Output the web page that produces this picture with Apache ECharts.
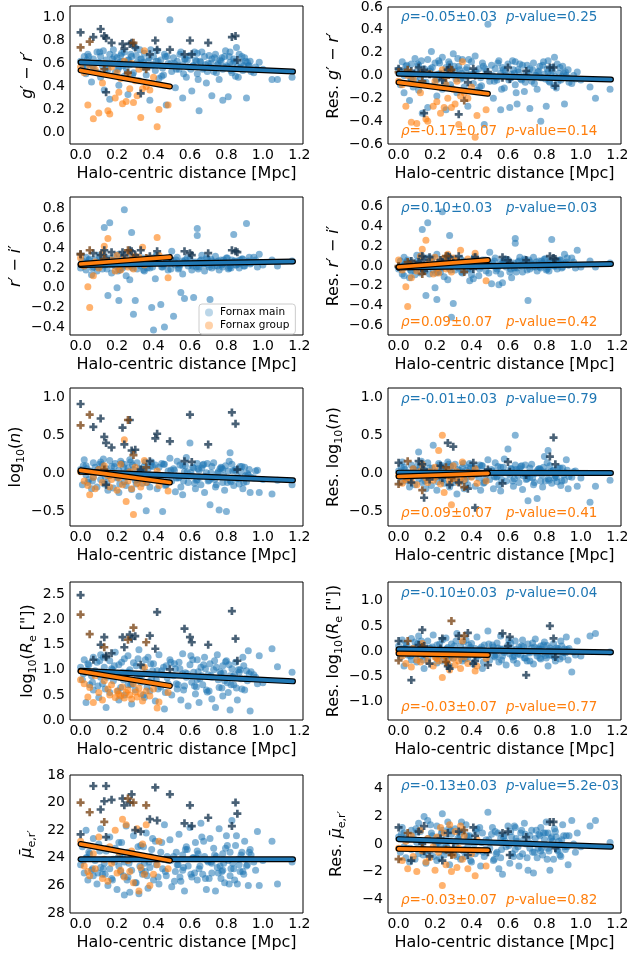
<!DOCTYPE html>
<html><head><meta charset="utf-8">
<script src="https://cdn.jsdelivr.net/npm/echarts@6/dist/echarts.min.js"></script>
<style>html,body{margin:0;padding:0;background:#fff}#c{width:632px;height:954px}</style>
</head><body><div id="c"></div>
<script>
// ---- shared x positions (halo-centric distance, Mpc) ----
const mainX = [
0.00,0.01,0.02,0.03,0.03,0.04,0.05,0.06,0.07,0.07,
0.08,0.09,0.10,0.11,0.11,0.12,0.13,0.14,0.15,0.16,
0.16,0.17,0.18,0.19,0.20,0.21,0.21,0.22,0.23,0.24,
0.24,0.25,0.26,0.26,0.27,0.28,0.29,0.30,0.31,0.32,
0.33,0.34,0.35,0.36,0.37,0.38,0.39,0.40,0.41,0.42,
0.43,0.44,0.45,0.46,0.47,0.48,0.49,0.50,0.51,0.52,
0.53,0.54,0.55,0.56,0.56,0.57,0.58,0.59,0.60,0.61,
0.62,0.63,0.64,0.64,0.65,0.66,0.67,0.68,0.69,0.70,
0.71,0.72,0.72,0.73,0.74,0.75,0.76,0.77,0.78,0.78,
0.79,0.80,0.81,0.82,0.82,0.83,0.84,0.85,0.86,0.87,
0.88,0.89,0.90,0.91,0.92,0.93,0.95,0.97,0.98,1.05,
1.08,1.16,
0.015,0.045,0.095,0.125,0.145,0.175,0.205,0.225,0.235,0.265,
0.285,0.305,0.325,0.345,0.355,0.375,0.395,0.425,0.455,0.475,
0.515,0.535,0.575,0.605,0.635,0.665,0.685,0.695,0.735,0.755,
0.765,0.805,0.815,0.835,0.855,0.875,0.905,0.925,
0.035,0.065,0.105,0.135,0.185,0.215,0.255,0.275,0.315,0.335,
0.365,0.385,0.415,0.445,0.465,0.495,0.525,0.545,0.565,0.585,
0.615,0.625,0.645,0.655,0.675,0.705,0.715,0.745,0.775,0.785,
0.795,0.825,0.845,0.865,0.885,0.895,0.915,0.935,0.96,1.00];
const groupX = [
0.00,0.02,0.04,0.05,0.07,0.08,0.10,0.12,0.13,0.15,
0.16,0.17,0.19,0.20,0.21,0.22,0.23,0.24,0.25,0.26,
0.27,0.28,0.29,0.30,0.31,0.32,0.33,0.34,0.35,0.36,
0.38,0.40,0.42,0.43,0.48];
const mainNucX = [0.00,0.07,0.11,0.13,0.14,0.14,0.17,0.23,0.24,0.27,
0.28,0.30,0.33,0.38,0.41,0.42,0.49,0.57,0.60,0.61,0.70,0.83,0.85,0.86];
const groupNucX = [0.00,0.05,0.13,0.26,0.29,0.36];
const fitMainX = [0.0, 1.165];
const fitGroupX = [0.0, 0.49];

// ---- g'-r' ----
const gr_main = [
0.62,0.55,0.66,0.58,0.51,0.68,0.60,0.44,0.57,0.64,
0.53,0.70,0.61,0.48,0.66,0.58,0.37,0.63,0.55,0.68,
0.29,0.60,0.72,0.52,0.65,0.57,0.41,0.67,0.62,0.49,
0.70,0.56,0.63,0.33,0.59,0.66,0.52,0.74,0.61,0.45,
0.64,0.57,0.69,0.50,0.62,0.28,0.58,0.66,0.54,0.71,
0.47,0.63,0.56,0.68,0.24,0.60,0.98,0.53,0.65,0.39,
0.62,0.55,0.70,0.30,0.59,0.64,0.48,0.57,0.67,0.36,
0.58,0.63,0.51,0.69,0.19,0.61,0.55,0.66,0.43,0.60,
0.57,0.32,0.64,0.53,0.68,0.59,0.46,0.62,0.28,0.55,
0.66,0.58,0.31,0.61,0.70,0.52,0.64,0.49,0.57,0.68,
0.60,0.54,0.65,0.30,0.58,0.62,0.52,0.55,0.61,0.46,
0.46,0.48,
0.59,0.66,0.52,0.71,0.60,0.64,0.55,0.69,0.58,0.63,
0.50,0.67,0.72,0.61,0.56,0.65,0.59,0.62,0.50,0.66,
0.60,0.58,0.64,0.55,0.62,0.70,0.59,0.53,0.65,0.60,
0.63,0.57,0.66,0.60,0.74,0.56,0.62,0.58,
0.63,0.58,0.70,0.55,0.66,0.61,0.52,0.68,0.59,0.64,
0.57,0.72,0.62,0.49,0.66,0.60,0.55,0.68,0.51,0.63,
0.58,0.70,0.46,0.62,0.56,0.67,0.60,0.52,0.65,0.57,
0.71,0.54,0.62,0.48,0.66,0.58,0.61,0.53,0.57,0.55];
const gr_group = [
0.57,0.52,0.24,0.58,0.12,0.55,0.17,0.43,0.60,0.19,
0.16,0.57,0.30,0.52,0.35,0.47,0.25,0.62,0.27,0.50,
0.38,0.60,0.26,0.45,0.32,0.55,0.13,0.38,0.71,0.40,
0.37,0.48,0.05,0.20,0.24];
const gr_mainNuc = [0.87,0.83,0.90,0.84,0.35,0.82,0.78,0.77,0.73,0.77,
0.78,0.74,0.34,0.68,0.80,0.72,0.72,0.68,0.80,0.68,0.78,0.83,0.84,0.63];
const gr_groupNuc = [0.74,0.79,0.55,0.52,0.78,0.55];
const gr_fitMain = [0.61, 0.53];
const gr_fitGroup = [0.54, 0.40];

// ---- r'-i' ----
const ri_main = [
0.20,0.27,0.22,0.31,0.18,0.25,0.29,0.13,0.24,0.21,
0.28,0.17,0.33,0.22,0.26,0.19,0.61,0.24,-0.08,0.30,
0.66,0.15,0.27,0.22,0.00,0.34,-0.13,0.25,0.20,0.79,
0.28,0.12,0.23,0.31,0.08,0.56,-0.27,-0.13,0.19,0.26,
0.22,0.30,0.17,0.27,0.24,0.20,-0.20,-0.43,0.09,0.33,
0.25,-0.17,0.21,-0.40,0.29,0.18,0.26,0.37,-0.29,0.23,
0.31,0.20,-0.05,0.27,0.14,-0.11,0.25,0.22,0.29,0.18,
-0.10,0.26,0.60,0.53,0.21,0.28,0.24,0.17,0.30,0.23,
-0.12,0.27,0.20,0.25,0.32,0.22,0.18,0.28,0.24,0.21,
0.26,0.30,0.19,0.25,0.22,0.28,0.54,0.23,0.27,0.20,
0.25,0.29,0.22,0.65,0.27,0.24,0.31,0.21,0.34,0.28,
0.22,0.27,
0.24,0.28,0.21,0.35,0.19,0.23,0.17,0.29,0.22,0.26,
0.20,0.31,0.24,0.18,0.28,0.25,0.21,0.27,0.23,0.30,
0.26,0.19,0.28,0.24,0.21,0.33,0.25,0.29,0.22,0.27,
0.24,0.30,0.20,0.26,0.23,0.28,0.25,0.31,
0.25,0.20,0.28,0.23,0.31,0.18,0.26,0.22,0.29,0.24,
0.20,0.27,0.33,0.21,0.25,0.19,0.28,0.23,0.26,0.30,
0.22,0.25,0.19,0.27,0.24,0.21,0.29,0.26,0.23,0.28,
0.25,0.20,0.27,0.24,0.29,0.22,0.26,0.25,0.28,0.23];
const ri_group = [
0.30,0.22,0.01,-0.20,0.12,0.26,0.20,0.35,0.42,0.50,
0.25,0.28,0.17,0.33,0.22,0.18,0.27,0.30,0.24,0.21,
0.36,0.29,0.19,0.32,0.27,0.31,0.26,0.41,0.23,0.28,
0.30,0.25,0.51,0.33,0.10];
const ri_mainNuc = [0.34,0.35,0.33,0.38,0.25,0.30,0.36,0.36,0.33,0.38,
0.37,0.33,0.38,0.32,0.29,0.37,0.30,0.37,0.35,0.33,0.35,0.38,0.37,0.36];
const ri_groupNuc = [0.34,0.38,0.29,0.38,0.30,0.30];
const ri_fitMain = [0.23, 0.265];
const ri_fitGroup = [0.24, 0.31];

// ---- log10(n) ----
const n_main = [
0.05,-0.15,0.18,-0.02,0.10,-0.12,0.03,-0.20,0.14,-0.05,
0.08,-0.18,0.02,0.15,-0.08,0.11,-0.14,0.06,-0.22,0.17,
-0.03,0.09,-0.19,0.13,-0.06,0.04,-0.25,0.16,0.00,-0.11,
0.12,-0.16,0.07,-0.03,0.18,-0.21,0.05,-0.09,0.14,-0.30,
0.02,-0.13,0.10,-0.49,0.06,-0.18,0.15,-0.04,0.11,-0.20,
0.08,-0.07,-0.50,0.12,-0.15,0.03,0.20,-0.10,0.06,-0.24,
0.16,-0.05,-0.18,0.10,-0.28,0.02,0.21,-0.12,0.40,-0.03,
0.07,-0.20,0.13,-0.08,0.04,-0.15,0.11,-0.25,0.01,-0.10,
-0.41,0.09,-0.06,0.14,-0.18,0.00,-0.48,0.08,-0.12,0.05,
-0.22,-0.50,0.03,0.27,-0.09,0.12,-0.16,0.05,-0.04,-0.14,
0.02,-0.20,0.08,-0.11,-0.02,-0.25,-0.06,0.04,-0.25,-0.27,
-0.09,-0.15,
0.10,-0.08,0.05,0.19,-0.12,0.02,-0.05,0.13,0.08,-0.03,
0.11,-0.14,0.06,0.00,0.15,-0.07,0.09,-0.02,0.12,-0.10,
0.04,-0.06,0.10,0.01,-0.09,0.07,-0.04,0.13,-0.08,0.02,
0.06,-0.12,0.16,0.03,-0.07,0.09,-0.03,0.05,
0.06,-0.10,0.12,-0.04,0.09,-0.14,0.03,0.15,-0.08,0.05,
-0.12,0.10,-0.02,0.13,-0.16,0.04,-0.06,0.11,-0.10,0.02,
0.08,-0.13,0.06,-0.05,0.12,-0.09,0.01,-0.15,0.07,-0.03,
0.10,-0.11,0.04,-0.07,0.09,-0.12,0.00,-0.05,0.03,-0.08];
const n_group = [
0.02,-0.10,-0.16,-0.28,-0.05,-0.20,0.05,-0.12,0.10,-0.03,
-0.18,-0.08,0.00,-0.22,-0.06,0.12,-0.15,0.44,-0.37,-0.10,
0.02,-0.20,-0.54,0.08,-0.13,-0.05,-0.18,-0.09,0.17,-0.12,
-0.02,-0.07,0.03,-0.16,-0.23];
const n_mainNuc = [0.91,0.61,0.72,0.48,-0.15,0.40,0.34,0.60,0.38,0.70,
0.30,0.31,0.05,0.16,0.46,0.52,0.42,0.16,0.77,0.15,0.38,0.80,0.65,0.05];
const n_groupNuc = [0.63,0.77,0.05,0.70,0.24,0.08];
const n_fitMain = [0.02, -0.09];
const n_fitGroup = [0.04, -0.12];

// ---- log10(Re) ----
const re_main = [
1.05,0.80,1.20,0.35,0.95,1.12,0.70,0.88,1.25,0.60,
0.98,1.15,0.45,0.85,1.30,0.72,1.05,0.25,0.92,1.18,
0.55,1.02,0.78,1.35,0.88,0.40,1.10,0.65,0.95,1.22,
0.50,0.86,1.28,0.70,1.00,0.32,1.14,0.60,0.90,1.40,
0.75,1.06,0.45,0.95,1.25,0.58,0.82,1.12,0.38,0.98,
1.30,0.66,0.90,0.22,1.08,0.72,1.20,0.50,0.88,1.02,
0.62,1.15,0.40,0.92,1.32,0.68,0.85,0.28,1.10,0.75,
0.95,0.52,1.20,0.80,0.35,1.05,0.70,1.25,0.60,0.90,
1.12,0.42,0.85,1.00,0.25,1.30,0.65,0.92,0.48,1.08,
0.78,1.18,0.55,0.88,0.20,1.02,0.70,1.15,0.40,0.95,
0.82,1.25,0.60,0.98,1.38,0.18,0.90,0.72,1.28,1.42,
1.06,0.95,
0.92,1.10,0.68,1.25,0.85,1.00,0.58,1.15,0.80,0.95,
0.72,1.08,0.88,0.50,1.20,0.76,0.98,0.62,1.05,0.84,
1.12,0.70,0.94,1.28,0.66,0.88,1.02,0.56,1.18,0.80,
0.96,0.74,1.10,0.86,0.64,1.00,0.82,0.92,
1.00,0.75,1.18,0.62,1.08,0.85,0.95,0.70,1.22,0.88,
0.66,1.12,0.80,0.98,0.55,1.15,0.72,1.02,0.60,0.92,
1.20,0.68,0.96,0.82,1.10,0.58,0.88,1.05,0.64,0.94,
1.16,0.70,0.90,1.00,0.62,1.08,0.78,0.96,0.85,0.74];
const re_group = [
0.80,0.72,0.46,0.65,0.35,0.88,0.55,0.40,0.78,0.62,
0.50,0.70,0.45,0.58,0.52,0.48,0.66,0.44,0.55,0.60,
0.50,0.42,0.72,0.56,0.46,0.64,0.52,0.38,1.05,0.58,
0.48,0.62,0.24,0.36,0.55];
const re_mainNuc = [2.49,1.20,1.50,1.65,1.25,1.28,1.33,1.65,1.45,1.70,
1.62,1.67,1.10,1.68,1.42,2.15,1.01,1.82,1.65,1.55,1.50,2.17,1.62,1.18];
const re_groupNuc = [2.10,1.71,1.45,1.60,1.84,1.55];
const re_fitMain = [0.98, 0.77];
const re_fitGroup = [0.97, 0.68];

// ---- mean surface brightness ----
const mu_main = [
24.5,23.2,25.1,22.0,24.0,25.6,23.7,24.9,22.6,25.3,
24.2,25.9,23.0,24.7,21.9,25.2,24.4,23.5,26.0,24.8,
22.5,25.5,24.1,23.3,26.3,24.6,22.9,25.0,23.8,26.7,
24.3,21.7,25.4,23.6,26.5,24.9,22.4,25.8,24.0,26.6,
23.1,25.2,24.4,22.2,26.2,24.7,23.4,25.6,22.8,24.1,
25.9,23.6,24.8,21.6,25.3,24.2,22.7,26.1,23.9,25.0,
24.5,22.3,25.7,23.8,24.9,26.4,23.2,24.6,21.8,25.4,
24.0,22.9,25.6,23.5,24.8,21.5,25.2,23.9,26.3,24.3,
22.6,25.1,24.4,23.3,26.4,24.7,21.9,25.5,23.7,24.9,
25.8,22.4,24.2,23.6,25.3,21.3,24.8,23.1,25.9,24.5,
23.8,25.0,22.8,24.6,26.0,23.4,24.3,22.1,26.0,22.8,
25.9,24.3,
24.2,23.6,25.1,24.8,23.3,25.6,24.0,22.9,25.3,24.4,
23.7,25.8,24.6,23.2,25.0,24.3,22.6,25.4,24.1,23.9,
25.7,24.5,23.4,25.2,24.0,22.5,25.5,24.2,23.8,25.1,
24.6,23.1,25.9,24.4,22.4,25.0,24.1,23.6,
24.0,24.8,23.5,25.2,24.3,23.8,25.6,24.1,23.2,24.9,
25.3,23.9,24.5,22.9,25.0,24.2,23.6,25.4,24.7,23.4,
24.0,25.1,23.7,24.6,22.8,25.5,24.3,23.9,25.0,24.4,
23.3,24.8,25.6,24.1,23.6,25.2,24.5,23.8,24.9,24.2];
const mu_group = [
22.8,24.6,25.0,25.3,23.7,24.8,22.5,25.5,24.1,25.7,
23.2,24.4,22.0,25.1,23.6,24.9,21.2,25.4,21.6,24.2,
25.0,23.5,25.8,24.0,21.9,26.4,24.7,23.0,25.2,21.6,
26.0,25.2,24.5,22.8,24.8];
const mu_mainNuc = [22.3,18.8,20.5,19.9,18.8,22.5,19.8,19.7,20.2,20.0,
19.4,22.0,22.1,21.2,18.9,21.3,19.4,21.5,20.2,21.7,21.1,21.7,20.0,20.8];
const mu_groupNuc = [20.0,20.7,21.4,19.7,20.0,20.2];
const mu_fitMain = [24.1, 24.1];
const mu_fitGroup = [23.0, 24.2];

// ---- residuals g'-r' ----
const rgr_main = [
0.05,-0.08,0.12,0.00,-0.15,0.08,0.02,-0.22,-0.03,0.10,
-0.10,0.15,0.03,-0.13,0.09,-0.02,-0.33,0.06,-0.06,0.14,
-0.28,0.04,0.21,-0.09,0.11,-0.04,-0.18,0.13,0.02,-0.12,
0.16,-0.06,0.07,-0.30,0.01,0.10,-0.11,0.19,0.04,-0.15,
0.08,-0.03,0.14,-0.10,0.05,-0.27,0.00,0.12,-0.07,0.17,
-0.13,0.06,-0.02,0.11,-0.43,0.03,0.45,-0.05,0.09,-0.20,
0.06,-0.04,0.13,-0.30,0.02,0.07,-0.11,0.00,0.10,-0.28,
0.01,0.05,-0.08,0.12,-0.25,0.03,-0.03,0.09,-0.14,0.02,
-0.01,-0.29,0.06,-0.05,0.11,0.00,-0.12,0.04,-0.40,-0.02,
0.09,0.01,-0.27,0.03,0.13,-0.06,0.07,-0.09,-0.01,0.10,
0.02,-0.04,0.08,-0.25,0.00,0.05,-0.07,-0.03,0.03,-0.10,
-0.20,-0.12,
0.03,0.09,-0.05,0.13,0.01,0.06,-0.03,0.11,0.00,0.04,
-0.08,0.08,0.15,0.02,-0.02,0.07,0.01,0.03,-0.09,0.06,
0.00,-0.02,0.05,-0.04,0.02,0.10,-0.01,-0.06,0.05,0.00,
0.03,-0.03,0.06,0.01,0.16,-0.05,0.02,-0.02,
0.04,-0.02,0.10,-0.06,0.07,0.01,-0.08,0.12,-0.03,0.05,
0.00,0.14,0.03,-0.10,0.08,-0.01,-0.05,0.11,-0.12,0.04,
-0.02,0.13,-0.15,0.05,-0.04,0.09,0.01,-0.07,0.08,-0.02,
0.12,-0.05,0.04,-0.11,0.07,-0.01,0.03,-0.06,0.00,-0.04];
const rgr_group = [
-0.05,-0.08,-0.27,0.00,-0.41,-0.03,-0.42,-0.15,0.03,-0.38,
-0.40,0.02,-0.27,-0.05,-0.23,-0.10,-0.33,0.05,-0.28,-0.08,
-0.20,0.03,-0.28,-0.12,-0.25,-0.05,-0.43,-0.18,0.12,-0.15,
-0.20,-0.10,-0.54,-0.35,-0.30];
const rgr_mainNuc = [0.06,0.04,0.07,0.02,-0.33,0.05,0.01,0.00,-0.04,0.05,
0.07,0.02,-0.34,-0.06,0.06,0.00,0.03,-0.02,0.07,-0.03,0.04,0.07,0.07,-0.09];
const rgr_groupNuc = [0.03,0.05,-0.05,-0.02,0.05,-0.22];
const rgr_fitMain = [0.015, -0.035];
const rgr_fitGroup = [-0.06, -0.16];

// ---- residuals r'-i' ----
const rri_main = [
-0.03,0.05,-0.08,0.09,-0.10,0.02,0.06,-0.12,0.01,-0.05,
0.04,-0.09,0.11,-0.02,0.03,-0.07,0.37,0.00,-0.30,0.08,
0.44,-0.08,0.05,-0.04,-0.22,0.12,-0.34,0.02,-0.06,0.55,
0.05,-0.11,0.00,0.08,-0.14,0.31,-0.52,-0.38,-0.04,0.03,
-0.02,0.07,-0.07,0.04,0.01,-0.03,-0.15,-0.09,-0.13,0.10,
0.02,-0.10,-0.01,0.06,0.05,-0.05,0.03,0.14,-0.18,0.00,
0.08,-0.03,-0.19,0.04,-0.08,-0.17,0.02,-0.01,0.06,-0.06,
-0.12,0.03,0.28,0.23,-0.02,0.05,0.01,-0.06,0.07,0.00,
-0.35,0.04,-0.03,0.02,0.09,-0.01,-0.05,0.05,0.01,-0.02,
0.03,0.07,-0.04,0.02,-0.01,0.05,0.27,0.00,0.04,-0.03,
0.02,0.06,-0.01,0.12,0.04,0.01,0.08,-0.02,0.16,0.05,
-0.01,0.03,
0.00,0.04,-0.03,0.11,-0.05,-0.01,-0.07,0.05,-0.02,0.03,
-0.04,0.07,0.01,-0.06,0.05,0.02,-0.03,0.04,0.00,0.06,
0.03,-0.05,0.05,0.01,-0.02,0.09,0.02,0.06,-0.01,0.04,
0.01,0.07,-0.03,0.03,0.00,0.05,0.02,0.08,
0.02,-0.04,0.05,-0.01,0.08,-0.06,0.03,-0.02,0.06,0.00,
-0.05,0.04,0.09,-0.03,0.01,-0.07,0.05,-0.01,0.02,0.07,
-0.03,0.01,-0.06,0.04,0.00,-0.04,0.06,0.02,-0.01,0.05,
0.01,-0.05,0.03,0.00,0.06,-0.02,0.02,0.01,0.04,-0.01];
const rri_group = [
0.06,-0.04,-0.21,-0.41,-0.12,0.03,-0.05,0.10,0.17,0.26,
0.00,0.05,-0.08,0.09,-0.02,-0.07,0.04,0.07,0.01,-0.03,
0.12,0.05,-0.06,0.08,0.03,0.06,0.02,0.16,-0.01,0.04,
0.07,0.02,0.13,0.06,-0.15];
const rri_mainNuc = [-0.01,0.05,0.04,0.10,-0.05,0.06,0.09,0.06,0.04,0.10,
0.09,0.03,0.10,0.02,-0.03,0.09,0.02,0.09,0.06,0.03,0.06,0.10,0.08,0.07];
const rri_groupNuc = [0.00,0.04,-0.08,0.10,0.00,-0.06];
const rri_fitMain = [-0.015, 0.02];
const rri_fitGroup = [-0.01, 0.06];

// ---- residuals log10(n) ----
const rn_main = [
0.03,-0.12,0.15,-0.02,0.08,-0.10,0.01,-0.18,0.11,-0.05,
0.06,-0.15,0.00,0.28,-0.07,0.09,-0.12,0.04,-0.20,0.14,
-0.03,0.07,-0.16,0.37,-0.05,0.02,-0.22,0.13,-0.01,-0.09,
0.10,-0.13,0.05,-0.03,0.15,-0.18,0.04,-0.08,0.12,-0.27,
0.01,-0.11,0.08,-0.20,0.04,-0.15,0.13,-0.04,0.09,-0.17,
0.06,-0.06,-0.22,0.10,-0.12,0.02,0.18,-0.08,0.05,-0.20,
0.14,-0.04,-0.15,0.08,-0.23,0.01,0.19,-0.10,0.32,-0.02,
0.06,-0.17,0.11,0.50,0.03,-0.12,0.09,-0.21,0.00,-0.08,
-0.36,0.07,-0.05,0.12,-0.15,0.00,-0.33,0.06,-0.10,0.04,
-0.18,0.22,0.02,0.30,-0.07,0.10,-0.13,0.04,-0.03,-0.11,
0.01,-0.16,0.07,-0.09,0.18,-0.20,-0.05,0.03,-0.17,-0.38,
-0.17,-0.09,
0.08,-0.06,0.04,0.16,-0.10,0.01,-0.04,0.11,0.06,-0.02,
0.09,-0.12,0.05,0.00,0.13,-0.05,0.07,-0.01,0.10,-0.08,
0.03,-0.05,0.08,0.01,-0.07,0.06,-0.03,0.11,-0.06,0.02,
0.05,-0.10,0.14,0.02,-0.06,0.07,-0.02,0.04,
0.05,-0.08,0.10,-0.03,0.07,-0.11,0.02,0.12,-0.06,0.04,
-0.09,0.08,-0.01,0.11,-0.13,0.03,-0.04,0.09,-0.08,0.01,
0.06,-0.10,0.05,-0.03,0.10,-0.07,0.00,-0.12,0.06,-0.02,
0.08,-0.09,0.03,-0.05,0.07,-0.10,0.01,-0.04,0.02,-0.06];
const rn_group = [
-0.02,-0.13,-0.08,-0.05,-0.10,0.06,-0.15,0.03,0.12,-0.06,
-0.12,0.02,-0.09,0.08,-0.04,0.30,-0.14,0.50,-0.25,-0.03,
0.04,-0.10,-0.41,0.10,-0.07,0.02,-0.12,-0.04,0.15,-0.08,
0.01,-0.05,0.06,-0.13,-0.10];
const rn_mainNuc = [0.14,-0.12,0.16,0.12,-0.32,0.05,-0.08,0.10,-0.06,0.40,
-0.15,0.35,-0.12,-0.20,0.14,-0.45,0.05,-0.13,0.15,0.02,-0.02,0.22,0.47,0.12];
const rn_groupNuc = [-0.14,0.16,-0.22,0.08,-0.06,-0.18];
const rn_fitMain = [0.01, 0.005];
const rn_fitGroup = [-0.04, 0.0];

// ---- residuals log10(Re) ----
const rre_main = [
0.10,-0.12,0.22,-0.30,0.05,0.15,-0.08,0.00,0.25,-0.18,
0.06,0.18,-0.22,-0.02,0.30,-0.12,0.08,-0.35,0.02,0.20,
-0.15,0.05,-0.06,0.32,0.00,-0.24,0.12,-0.10,0.04,0.22,
-0.20,-0.03,0.26,-0.12,0.07,-0.30,0.14,-0.14,0.00,0.35,
-0.08,0.10,-0.20,0.03,0.22,-0.15,-0.02,0.15,-0.26,0.05,
0.28,-0.10,0.02,-0.35,0.12,-0.08,0.40,-0.18,0.00,0.08,
-0.12,0.16,-0.22,0.04,0.30,-0.10,-0.03,-0.28,0.12,-0.06,
0.05,-0.18,0.20,-0.02,-0.25,0.08,-0.08,0.22,-0.14,0.01,
0.14,-0.20,-0.04,0.06,-0.26,0.24,-0.10,0.03,-0.16,0.10,
-0.05,0.18,-0.14,0.00,-0.30,0.06,-0.09,0.15,-0.20,0.02,
-0.02,0.20,-0.12,0.04,0.28,-0.18,-0.42,-0.08,0.20,0.30,
0.35,-0.02,
0.02,0.12,-0.08,0.20,-0.04,0.06,-0.12,0.14,-0.02,0.04,
-0.10,0.10,0.00,-0.16,0.18,-0.05,0.07,-0.12,0.08,-0.03,
0.12,-0.08,0.04,0.22,-0.10,0.02,0.09,-0.14,0.16,-0.04,
0.06,-0.09,0.11,0.00,-0.12,0.05,-0.03,0.03,
0.05,-0.10,0.15,-0.18,0.08,-0.04,0.02,-0.14,0.20,-0.02,
-0.16,0.12,-0.06,0.04,-0.22,0.14,-0.10,0.06,-0.18,0.00,
0.16,-0.12,0.03,-0.06,0.10,-0.20,-0.02,0.08,-0.14,0.04,
0.12,-0.08,0.02,0.06,-0.16,0.10,-0.04,0.05,-0.02,-0.10];
const rre_group = [
0.00,-0.10,-0.25,-0.05,-0.32,0.05,-0.18,-0.22,0.15,-0.08,
-0.20,0.02,-0.30,-0.12,-0.15,-0.20,-0.05,-0.53,-0.10,-0.18,
-0.25,-0.38,0.00,-0.15,-0.28,-0.08,-0.20,-0.35,0.20,-0.12,
-0.25,-0.05,-0.40,-0.30,-0.15];
const rre_mainNuc = [0.20,-0.58,0.12,0.42,-0.05,0.10,-0.25,0.05,0.25,-0.30,
-0.35,0.00,0.30,0.36,-0.25,-0.20,-0.28,0.35,0.10,0.28,-0.48,0.50,0.25,-0.12];
const rre_groupNuc = [-0.19,0.20,0.08,-0.22,0.60,0.30];
const rre_fitMain = [0.035, -0.025];
const rre_fitGroup = [-0.05, -0.08];

// ---- residuals mean surface brightness ----
const rmu_main = [
0.5,-0.6,1.2,-0.2,0.8,-1.0,0.3,-1.3,1.0,-0.4,
0.6,-1.1,0.1,1.5,-0.7,0.9,-0.3,2.0,-1.4,0.4,
1.7,-0.5,0.8,-0.9,0.2,1.3,-1.2,0.5,-0.1,2.2,
1.0,-0.8,0.4,-0.2,1.6,-1.5,0.7,-0.6,1.1,-0.9,
0.3,-1.1,0.9,-0.4,1.4,-0.2,0.6,-1.3,0.2,-0.7,
1.1,-0.5,-1.6,0.8,-0.9,0.3,2.3,-0.3,0.7,-1.2,
0.9,-0.6,-1.8,0.4,-1.0,-2.2,0.6,-0.2,1.3,-1.4,
0.5,-0.9,1.2,-0.4,0.2,-1.6,0.8,-0.7,1.5,0.0,
-1.9,0.6,-0.3,1.0,-2.1,0.4,-1.0,0.7,-0.5,1.2,
-0.8,0.3,1.6,-0.3,0.8,-1.9,0.5,-1.1,0.9,-0.4,
0.2,-0.9,1.4,-0.2,0.6,-1.5,1.7,-0.6,0.8,1.3,
1.7,0.1,
0.7,-0.3,1.1,0.2,-0.6,1.4,0.0,-1.0,0.8,-0.2,
1.0,-0.8,0.4,1.6,-0.5,0.6,-1.2,0.9,0.1,-0.4,
1.2,-0.7,0.5,-0.1,1.3,-0.9,0.3,0.7,-0.6,1.0,
-0.3,0.8,-1.1,0.4,1.1,-0.5,0.6,-0.2,
0.4,-0.3,0.9,-0.8,0.6,0.1,-0.5,1.1,-0.2,0.7,
-0.9,0.5,0.0,1.2,-0.6,0.3,-1.1,0.8,-0.4,0.2,
0.9,-0.7,0.4,-0.2,1.0,-1.0,0.1,-0.6,0.6,-0.3,
0.8,-0.5,0.2,0.5,-0.8,0.3,-0.4,0.6,0.0,-0.2];
const rmu_group = [
-0.3,-1.2,0.2,-1.8,0.6,-0.9,-2.0,1.0,-0.5,-1.3,
0.4,-1.0,-0.2,-1.9,0.5,-0.6,1.2,-3.0,0.8,-1.5,
-0.4,1.4,-2.0,-0.8,0.9,-1.7,-0.3,1.3,-1.1,0.6,
-1.8,-0.7,-2.3,0.3,-1.6];
const rmu_mainNuc = [1.2,-1.2,0.9,0.0,-0.5,1.3,-0.9,0.4,-1.2,0.8,
-0.6,-0.3,0.9,-0.8,1.2,0.6,-0.6,0.8,0.9,-0.8,0.5,1.6,1.6,-0.3];
const rmu_groupNuc = [-1.1,0.8,-0.3,-0.4,-0.8,1.0];
const rmu_fitMain = [0.35, -0.2];
const rmu_fitGroup = [-0.35, -0.45];

// ---- tick labels ----
const xTicks = [0.0,0.2,0.4,0.6,0.8,1.0,1.2];
const yTicks_gr = [0.0,0.2,0.4,0.6,0.8,1.0];
const yTicks_rgr = [-0.6,-0.4,-0.2,0.0,0.2,0.4,0.6];
const yTicks_ri = [-0.4,-0.2,0.0,0.2,0.4,0.6,0.8];
const yTicks_rri = [-0.6,-0.4,-0.2,0.0,0.2,0.4,0.6];
const yTicks_n = [-0.5,0.0,0.5,1.0];
const yTicks_re = [0.0,0.5,1.0,1.5,2.0,2.5];
const yTicks_rre = [-1.0,-0.5,0.0,0.5,1.0];
const yTicks_mu = [18,20,22,24,26,28];
const yTicks_rmu = [-4,-2,0,2,4];

// ---- annotation strings ----
const annMain = [['-0.05±0.03','0.25'],['0.10±0.03','0.03'],['-0.01±0.03','0.79'],['-0.10±0.03','0.04'],['-0.13±0.03','5.2e-03']];
const annGroup = [['-0.17±0.07','0.14'],['0.09±0.07','0.42'],['0.09±0.07','0.41'],['-0.03±0.07','0.77'],['-0.03±0.07','0.82']];

const BLUE = '#1f77b4', ORANGE = '#ff7f0e';
const FONT = 'DejaVu Sans';
const tops = [6, 197, 388, 582, 775], H = 138, lefts = [70, 388], W = 233;

const panels = [
 {r:0,c:0,m:gr_main,g:gr_group,mn:gr_mainNuc,gn:gr_groupNuc,fm:gr_fitMain,fg:gr_fitGroup,min:-0.1,max:1.1,t:yTicks_gr,d:1,name:'{i|g}′ − {i|r}′',gap:30},
 {r:0,c:1,m:rgr_main,g:rgr_group,mn:rgr_mainNuc,gn:rgr_groupNuc,fm:rgr_fitMain,fg:rgr_fitGroup,min:-0.6,max:0.6,t:yTicks_rgr,d:1,name:'Res. {i|g}′ − {i|r}′',gap:42},
 {r:1,c:0,m:ri_main,g:ri_group,mn:ri_mainNuc,gn:ri_groupNuc,fm:ri_fitMain,fg:ri_fitGroup,min:-0.48,max:0.92,t:yTicks_ri,d:1,name:'{i|r}′ − {i|i}′',gap:38},
 {r:1,c:1,m:rri_main,g:rri_group,mn:rri_mainNuc,gn:rri_groupNuc,fm:rri_fitMain,fg:rri_fitGroup,min:-0.7,max:0.7,t:yTicks_rri,d:1,name:'Res. {i|r}′ − {i|i}′',gap:42},
 {r:2,c:0,m:n_main,g:n_group,mn:n_mainNuc,gn:n_groupNuc,fm:n_fitMain,fg:n_fitGroup,min:-0.69,max:1.12,t:yTicks_n,d:1,name:'log{s|10}({i|n})',gap:38},
 {r:2,c:1,m:rn_main,g:rn_group,mn:rn_mainNuc,gn:rn_groupNuc,fm:rn_fitMain,fg:rn_fitGroup,min:-0.69,max:1.12,t:yTicks_n,d:1,name:'Res. log{s|10}({i|n})',gap:42},
 {r:3,c:0,m:re_main,g:re_group,mn:re_mainNuc,gn:re_groupNuc,fm:re_fitMain,fg:re_fitGroup,min:0,max:2.75,t:yTicks_re,d:1,name:'log{s|10}({i|R}{s|e} ["])',gap:29},
 {r:3,c:1,m:rre_main,g:rre_group,mn:rre_mainNuc,gn:rre_groupNuc,fm:rre_fitMain,fg:rre_fitGroup,min:-1.375,max:1.375,t:yTicks_rre,d:1,name:'Res. log{s|10}({i|R}{s|e} ["])',gap:42},
 {r:4,c:0,m:mu_main,g:mu_group,mn:mu_mainNuc,gn:mu_groupNuc,fm:mu_fitMain,fg:mu_fitGroup,min:18,max:28,t:yTicks_mu,d:0,inv:true,name:'{i|μ̄}{s|e,r′}',gap:32},
 {r:4,c:1,m:rmu_main,g:rmu_group,mn:rmu_mainNuc,gn:rmu_groupNuc,fm:rmu_fitMain,fg:rmu_fitGroup,min:-5,max:5,t:yTicks_rmu,d:0,name:'Res. {i|μ̄}{s|e,r′}',gap:40}
];

const zip = (xs, ys) => xs.map((x, i) => [x, ys[i]]);
const fmt = d => v => v.toFixed(d).replace('-', '−');
const plusPath = 'path://M3,0H6V3H9V6H6V9H3V6H0V3H3Z';

const grids = [], xAxes = [], yAxes = [], series = [], graphics = [];
panels.forEach((p, k) => {
  grids.push({left: lefts[p.c], top: tops[p.r], width: W, height: H, show: true, borderColor: '#000', borderWidth: 1, backgroundColor: 'transparent'});
  xAxes.push({gridIndex: k, type: 'value', min: -0.058, max: 1.22,
    name: 'Halo-centric distance [Mpc]', nameLocation: 'middle', nameGap: 22,
    nameTextStyle: {fontFamily: FONT, fontSize: 16, color: '#000'},
    axisLine: {show: false}, splitLine: {show: false}, axisTick: {show: false},
    axisLabel: {fontFamily: FONT, fontSize: 14, color: '#000', margin: 4, customValues: xTicks, formatter: fmt(1)}});
  yAxes.push({gridIndex: k, type: 'value', min: p.min, max: p.max, inverse: !!p.inv,
    name: p.name, nameLocation: 'middle', nameRotate: 90, nameGap: p.gap,
    nameTextStyle: {fontFamily: FONT, fontSize: 16, color: '#000', lineHeight: 22,
      rich: {i: {fontFamily: FONT, fontSize: 16, fontStyle: 'italic', color: '#000', lineHeight: 22},
             s: {fontFamily: FONT, fontSize: 11, color: '#000', lineHeight: 12, verticalAlign: 'bottom'}}},
    axisLine: {show: false}, splitLine: {show: false}, axisTick: {show: false},
    axisLabel: {fontFamily: FONT, fontSize: 14, color: '#000', margin: 5, customValues: p.t, formatter: fmt(p.d)}});
  series.push({type: 'scatter', name: 'Fornax main', xAxisIndex: k, yAxisIndex: k, data: zip(mainX, p.m),
    symbolSize: 7, itemStyle: {color: BLUE, opacity: 0.55}, z: 2, silent: true});
  series.push({type: 'scatter', name: 'Fornax group', xAxisIndex: k, yAxisIndex: k, data: zip(groupX, p.g),
    symbolSize: 7, itemStyle: {color: ORANGE, opacity: 0.6}, z: 3, silent: true});
  series.push({type: 'scatter', name: 'main nucleated', xAxisIndex: k, yAxisIndex: k, data: zip(mainNucX, p.mn),
    symbol: plusPath, symbolSize: 8, itemStyle: {color: '#16344f', opacity: 0.78}, z: 4, silent: true});
  series.push({type: 'scatter', name: 'group nucleated', xAxisIndex: k, yAxisIndex: k, data: zip(groupNucX, p.gn),
    symbol: plusPath, symbolSize: 8, itemStyle: {color: '#7a4414', opacity: 0.78}, z: 4, silent: true});
  [[fitMainX, p.fm, BLUE], [fitGroupX, p.fg, ORANGE]].forEach(([fx, fy, col], j) => {
    series.push({type: 'line', name: 'fit-edge', xAxisIndex: k, yAxisIndex: k, data: zip(fx, fy), symbol: 'none',
      lineStyle: {color: '#000', width: 6, cap: 'round'}, z: 5 + 2 * j, silent: true, animation: false});
    series.push({type: 'line', name: 'fit', xAxisIndex: k, yAxisIndex: k, data: zip(fx, fy), symbol: 'none',
      lineStyle: {color: col, width: 3.6, cap: 'round'}, z: 6 + 2 * j, silent: true, animation: false});
  });
  if (p.c === 1) {
    const a = annMain[p.r], b = annGroup[p.r];
    const ty = tops[p.r] + 11.5, by = tops[p.r] + H - 13;
    const mk = (x, y, txt, col) => ({type: 'text', x: x, y: y, z: 100,
      style: {text: txt, fill: col, fontFamily: FONT, fontSize: 13.5, verticalAlign: 'middle', align: 'left',
        rich: {it: {fontStyle: 'italic', fill: col, fontFamily: FONT, fontSize: 13.5}}}});
    graphics.push(mk(401, ty, '{it|ρ}=' + a[0], BLUE));
    graphics.push(mk(506, ty, '{it|p}-value=' + a[1], BLUE));
    graphics.push(mk(401, by, '{it|ρ}=' + b[0], ORANGE));
    graphics.push(mk(506, by, '{it|p}-value=' + b[1], ORANGE));
  }
});

const chart = echarts.init(document.getElementById('c'), null, {renderer: 'canvas'});
chart.setOption({
  animation: false,
  grid: grids, xAxis: xAxes, yAxis: yAxes, series: series, graphic: graphics,
  legend: {data: [{name: 'Fornax main', itemStyle: {color: 'rgba(31,119,180,0.55)'}}, {name: 'Fornax group', itemStyle: {color: 'rgba(255,127,14,0.6)'}}],
    orient: 'vertical', left: 199, top: 304, icon: 'circle', itemWidth: 8, itemHeight: 8, itemGap: 2,
    padding: [3, 6, 3, 6], borderColor: '#cccccc', borderWidth: 1, borderRadius: 3, backgroundColor: 'rgba(255,255,255,0.8)',
    textStyle: {fontFamily: FONT, fontSize: 10.5, color: '#000', padding: [0, 0, 0, 2]}, selectedMode: false, z: 50}
});
</script>
</body></html>
